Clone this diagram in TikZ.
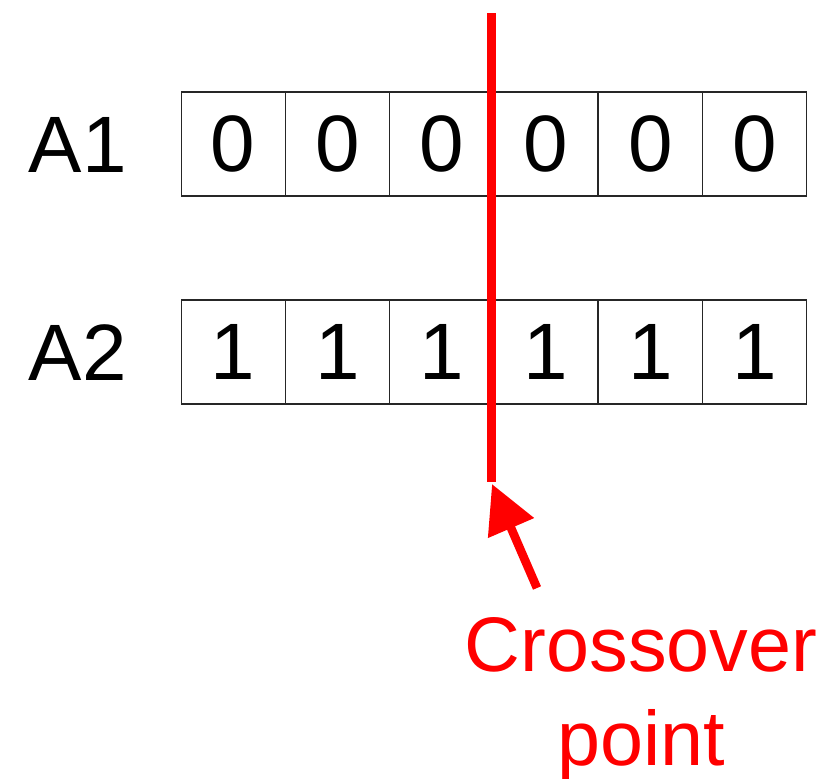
\documentclass[tikz,border=0pt]{standalone}
\usepackage{fontspec}
\setmainfont{Liberation Sans}
\usetikzlibrary{arrows.meta}

\tikzset{
  cellbox/.style={draw=black!85,line width=1pt,minimum width=78pt,minimum height=78pt,
    inner sep=0pt,font=\fontsize{60}{70}\selectfont},
  rowlabel/.style={inner sep=0pt,font=\fontsize{60}{70}\selectfont},
  cutline/.style={red,line width=6.75pt},
}

\begin{document}
\begin{tikzpicture}[x=0.75pt,y=-0.75pt]
                \useasboundingbox (0,0) rectangle (835,778);
                % the two parents
                \foreach \i in {1,...,6}{
                  \node[cellbox] (c1-\i) at ({181+104.33*(\i-0.5)},144) {0};
                  \node[cellbox] (c2-\i) at ({181+104.33*(\i-0.5)},352) {1};
                }
                \node[rowlabel,anchor=base east] (lblA1) at (127,172) {A1};
                \node[rowlabel,anchor=base east] (lblA2) at (127,380) {A2};
            
                % crossover cut
                \coordinate (cuttop) at (491,13);
                \coordinate (cutbot) at (491,482);
                \draw[cutline] (cuttop) -- (cutbot);
            
                \node[rowlabel,red,align=center,anchor=base,
                  font=\fontsize{58}{70}\selectfont] (xlabel) at (641,765)
                  {Crossover\\point};
                \coordinate (tail) at (537,588);
                \draw[red,line width=6.5pt,-{Triangle[length=36pt,width=36pt]}]
                  (tail) -- (492,484);
            \end{tikzpicture}
\end{document}
